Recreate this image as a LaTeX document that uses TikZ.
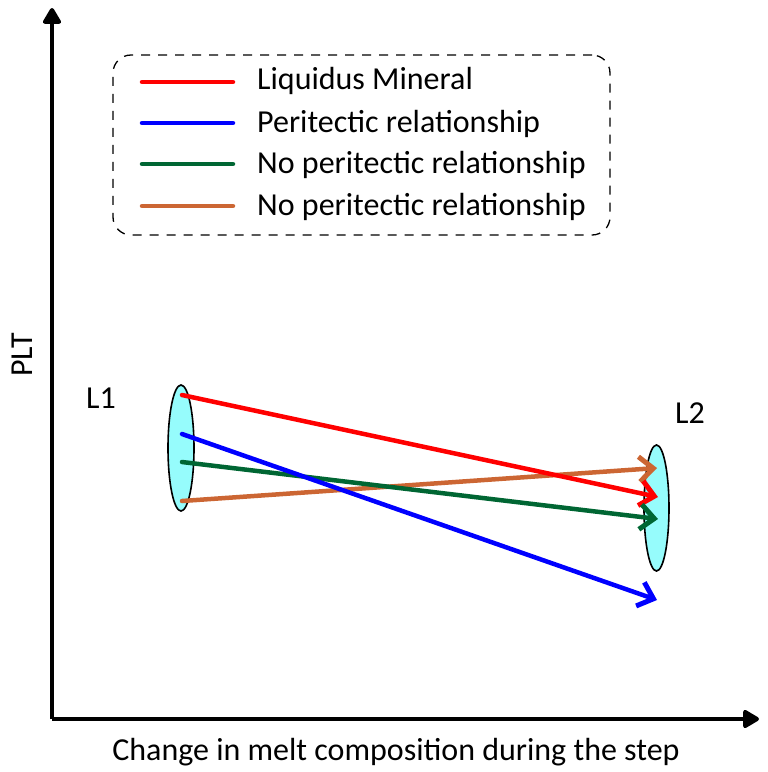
\documentclass[tikz,border=0pt]{standalone}
\usepackage{fontspec}
\setmainfont{Carlito}
\usetikzlibrary{shapes.geometric,arrows.meta}
\definecolor{lgreen}{RGB}{0,102,51}
\definecolor{lorange}{RGB}{204,102,51}
\definecolor{lcyan}{RGB}{150,252,252}
\begin{document}
\begin{tikzpicture}[x=1pt,y=-1pt,
  >={Straight Barb[length=14pt,width=25pt,line width=5pt]},
  axis/.style={line width=4pt,-{Triangle[round,length=18pt,width=20pt]}},
  path/.style={line width=4.5pt,line cap=round,->},
  key/.style={line width=4.5pt,line cap=round},
  melt/.style={draw,ellipse,line width=1.6pt,fill=lcyan,inner sep=0pt},
  txt/.style={font=\fontsize{32}{38}\selectfont,inner sep=0pt}]
\useasboundingbox (0,0) rectangle (768,772);

% axes
\coordinate (o) at (52,719);
\coordinate (ytop) at (52,8);
\coordinate (xend) at (759,719);
\draw[axis] (o) -- (ytop);
\draw[axis] (o) -- (xend);
\node[txt,rotate=90] (plt) at (22,355) {PLT};
\node[txt] (xlab) at (396,752) {Change in melt composition during the step};

% legend
\node[draw,dashed,dash pattern=on 9pt off 8pt,line width=1.3pt,rounded corners=18pt,
  minimum width=497pt,minimum height=180pt] (legend) at (361.5,145) {};
\coordinate (k1a) at (142,82);  \coordinate (k1b) at (233,82);
\coordinate (k2a) at (142,123); \coordinate (k2b) at (233,123);
\coordinate (k3a) at (142,164); \coordinate (k3b) at (233,164);
\coordinate (k4a) at (142,206); \coordinate (k4b) at (233,206);
\draw[key,red] (k1a) -- (k1b);
\draw[key,blue] (k2a) -- (k2b);
\draw[key,lgreen] (k3a) -- (k3b);
\draw[key,lorange] (k4a) -- (k4b);
\node[txt,anchor=west] (t1) at (257,81) {Liquidus Mineral};
\node[txt,anchor=west] (t2) at (257,124) {Peritectic relationship};
\node[txt,anchor=west] (t3) at (257,165) {No peritectic relationship};
\node[txt,anchor=west] (t4) at (257,207) {No peritectic relationship};

% melts
\node[melt,minimum width=26pt,minimum height=126pt] (l1) at (181,448) {};
\node[melt,minimum width=25pt,minimum height=126pt] (l2) at (656.5,508) {};
\node[txt] (l1lab) at (101,398) {L1};
\node[txt] (l2lab) at (690,413) {L2};

% steps
\coordinate (r1) at (182,395); \coordinate (r2) at (658,497);
\coordinate (b1) at (182,434); \coordinate (b2) at (657,600);
\coordinate (g1) at (182,462); \coordinate (g2) at (658,519);
\coordinate (c1) at (182,501); \coordinate (c2) at (657,468);
\draw[path,lorange] (c1) -- (c2);
\draw[path,red] (r1) -- (r2);
\draw[path,lgreen] (g1) -- (g2);
\draw[path,blue] (b1) -- (b2);
\end{tikzpicture}
\end{document}
